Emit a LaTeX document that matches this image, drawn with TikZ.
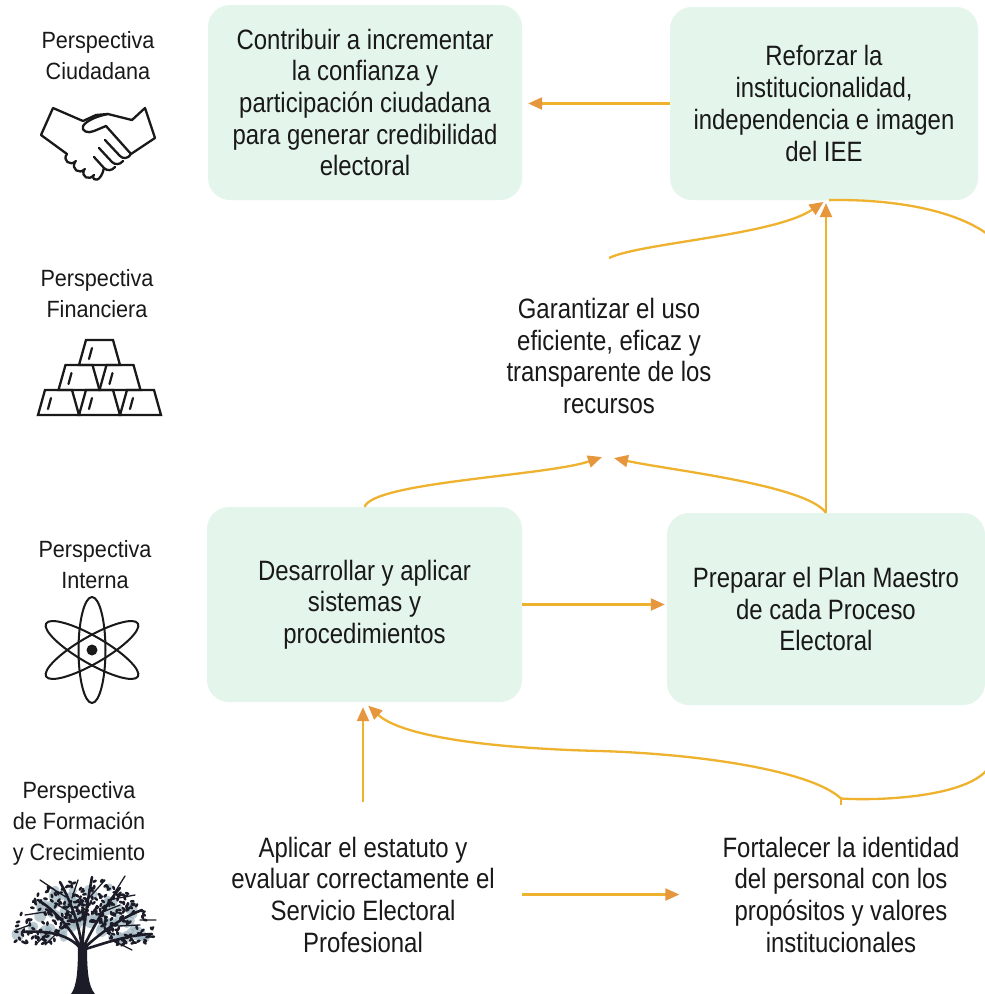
\documentclass[tikz,border=0pt]{standalone}
\usepackage{fontspec}
\setmainfont{Liberation Sans}
\newfontfamily\boxfont{Liberation Sans}[FakeStretch=0.855]
\newfontfamily\labfont{Liberation Sans}[FakeStretch=0.92]
\usetikzlibrary{arrows.meta}
\definecolor{boxfill}{RGB}{228,245,235}
\definecolor{linec}{RGB}{238,178,46}
\definecolor{tipc}{RGB}{230,150,60}
\definecolor{txt}{RGB}{25,25,25}
\definecolor{leafl}{RGB}{160,182,192}
\definecolor{trunkc}{RGB}{28,28,40}
\begin{document}
\begin{tikzpicture}[x=1pt,y=-1pt,
  box/.style={fill=boxfill, draw=none, rounded corners=22pt, inner sep=0pt, align=center, text=txt, font=\boxfont\fontsize{28}{31.7}\selectfont},
  ttext/.style={align=center, inner sep=0pt, text=txt, font=\boxfont\fontsize{28}{31.7}\selectfont},
  lbl/.style={align=center, inner sep=0pt, text=txt, anchor=north, font=\labfont\fontsize{23.5}{31}\selectfont},
  conn/.style={draw=linec, line width=2.3pt, -{Triangle[length=14pt,width=12pt,color=tipc]}},
  plainln/.style={draw=linec, line width=2.3pt},
  icon/.style={line width=2.3pt, line join=round, line cap=round, draw=black!90}]
\useasboundingbox (0,0) rectangle (985,994);
\clip (0,0) rectangle (985,994);
\fill[white] (0,0) rectangle (985,994);

% ---- boxes ----
\node[box, minimum width=314pt, minimum height=195pt] (contrib) at (365,102.5)
  {Contribuir a incrementar\\la confianza y\\participación ciudadana\\para generar credibilidad\\electoral};
\node[box, minimum width=308pt, minimum height=193pt] (reforzar) at (824,103.5)
  {Reforzar la\\institucionalidad,\\independencia e imagen\\del IEE};
\node[box, minimum width=315pt, minimum height=195pt] (desarr) at (364.5,604.5)
  {Desarrollar y aplicar\\sistemas y\\procedimientos};
\node[box, minimum width=318pt, minimum height=192pt] (preparar) at (826,609)
  {Preparar el Plan Maestro\\de cada Proceso\\Electoral};

% ---- free texts ----
\node[ttext, anchor=north] (garant) at (609,298)
  {Garantizar el uso\\eficiente, eficaz y\\transparente de los\\recursos};
\node[ttext, anchor=north] (aplicar) at (363,836.5)
  {Aplicar el estatuto y\\evaluar correctamente el\\Servicio Electoral\\Profesional};
\node[ttext, anchor=north] (fortal) at (841,836.5)
  {Fortalecer la identidad\\del personal con los\\propósitos y valores\\institucionales};

% ---- perspective labels ----
\node[lbl] (lc) at (98,31) {Perspectiva\\Ciudadana};
\node[lbl] (lf) at (97,269) {Perspectiva\\Financiera};
\node[lbl] (li) at (95,540) {Perspectiva\\Interna};
\node[lbl] (lfc) at (79,781) {Perspectiva\\de Formación\\y Crecimiento};

% ---- connectors ----
\draw[conn, shorten >=6pt] (reforzar.west) -- (reforzar.west -| contrib.east);
\draw[conn, shorten >=2pt] (desarr.east) -- (desarr.east -| preparar.west);
\draw[conn] ([xshift=27pt]aplicar.east) -- ([xshift=-43pt]fortal.west);
\draw[conn] (desarr.north) .. controls +(10,-25) and +(-57,19) .. ([xshift=-7pt,yshift=-43pt]garant.south);
\draw[conn] (preparar.north) .. controls +(-20,-28) and +(55,12) .. ([xshift=5pt,yshift=-44pt]garant.south);
\draw[conn, shorten >=3pt] (preparar.north) -- (preparar.north |- reforzar.south);
\draw[conn, shorten >=3pt] ([yshift=40pt]garant.north) .. controls +(31,-15) and +(-51,35) .. (preparar.north |- reforzar.south);
\coordinate (J) at ([yshift=38pt]fortal.north);
\draw[plainln] ([yshift=32pt]fortal.north) -- (J);
\draw[conn, shorten >=5pt] (J) .. controls +(-30,-28) and (700,754) .. (600,751) .. controls (480,748) and (400,735) .. (desarr.south);
\draw[conn, shorten >=5pt] ([yshift=35pt]aplicar.north) -- (aplicar.north |- desarr.south);
\draw[plainln, shorten >=3pt] (J) .. controls (880,801) and (960,797) .. (985,772) .. controls (1010,747) and (1015,262) .. (990,236) .. controls (950,205) and (875,199) .. (preparar.north |- reforzar.south);

% ---- handshake icon ----
\draw[icon] (83,121) -- (53,108) -- (41,135) -- (67,154);
\draw[icon] (132,120) -- (145,108) -- (155,138) -- (131,154);
\draw[icon] (83,121) -- (96,115) -- (108,114) -- (132,120);
\draw[icon] (108,114) .. controls (98,116) and (87,120) .. (83,126) .. controls (81,131) and (88,134) .. (94,131) -- (106,126) -- (131,154);
\draw[icon] (131,154) .. controls (128,159) and (123,159) .. (120,156) -- (105,140);
\draw[icon] (123,161) .. controls (120,165) and (115,165) .. (112,162) -- (99,148);
\draw[icon] (115,167) .. controls (112,171) and (107,171) .. (104,168) -- (94,157);
\draw[icon] (67,154) .. controls (62,160) and (70,167) .. (76,161);
\draw[icon] (75,162) .. controls (71,169) and (79,175) .. (85,169);
\draw[icon] (84,170) .. controls (81,177) and (89,181) .. (94,175);
\draw[icon] (93,176) .. controls (93,182) and (101,182) .. (104,168);

% ---- gold bars icon ----
\foreach \bx/\by in {38/415, 79/415, 120/415, 58.5/390, 99.5/390, 79/365}{
  \draw[icon, line cap=butt, line join=miter] (\bx,\by) -- ++(41,0) -- ++(-7,-25) -- ++(-27,0) -- cycle;
  \draw[icon, line width=2.2pt] ([shift={(10,-6)}]\bx,\by) -- ++(3,-11);
}

% ---- atom icon ----
\draw[icon, line width=2pt] (92,650) ellipse [x radius=13.5, y radius=53];
\draw[icon, line width=2pt, rotate around={60:(92,650)}] (92,650) ellipse [x radius=13.5, y radius=53];
\draw[icon, line width=2pt, rotate around={-60:(92,650)}] (92,650) ellipse [x radius=13.5, y radius=53];
\fill[black!90] (92,650) circle (5.5);

% ---- tree icon ----
\pgfmathsetseed{11}
\foreach \i in {1,...,80}{
  \pgfmathsetmacro\a{8+164*rnd}
  \pgfmathsetmacro\r{0.3+0.65*rnd}
  \pgfmathsetmacro\lx{84+72*\r*cos(\a)}
  \pgfmathsetmacro\ly{946-68*\r*sin(\a)}
  \pgfmathsetmacro\rr{3+3.5*rnd}
  \fill[leafl, opacity=0.7] (\lx,\ly) circle (\rr);
}
\fill[trunkc] (71,994) .. controls (77,986) and (78,970) .. (78,944) -- (87,944) .. controls (87,970) and (88,986) .. (95,994) -- cycle;
\draw[trunkc, line width=2.6pt, line cap=round]
  (82,950) .. controls (70,935) and (50,930) .. (22,932)
  (82,950) .. controls (72,930) and (55,910) .. (38,900)
  (82,950) .. controls (80,925) and (70,900) .. (60,882)
  (82,950) .. controls (84,920) and (88,900) .. (92,877)
  (82,950) .. controls (92,930) and (105,905) .. (120,888)
  (82,950) .. controls (98,935) and (120,918) .. (142,910)
  (82,950) .. controls (100,945) and (125,935) .. (152,934);
\draw[trunkc, line width=1.3pt, line cap=round]
  (50,931) -- (35,945) (45,912) -- (25,915) (66,897) -- (48,886)
  (72,898) -- (78,880) (89,898) -- (105,880) (108,900) -- (135,895)
  (118,926) -- (140,925) (112,940) -- (132,950) (60,930) -- (45,945)
  (100,913) -- (120,905) (75,915) -- (58,905) (30,925) -- (16,930)
  (140,920) -- (156,920) (55,890) -- (40,880) (115,892) -- (125,876);
\foreach \i in {1,...,300}{
  \pgfmathsetmacro\a{4+172*rnd}
  \pgfmathsetmacro\r{0.4+0.6*rnd}
  \pgfmathsetmacro\lx{84+72*\r*cos(\a)}
  \pgfmathsetmacro\ly{948-70*\r*sin(\a)}
  \pgfmathsetmacro\rot{180*rnd}
  \fill[trunkc, rotate around={\rot:(\lx,\ly)}] (\lx,\ly) ellipse [x radius=2.4, y radius=1.4];
}
\end{tikzpicture}
\end{document}
